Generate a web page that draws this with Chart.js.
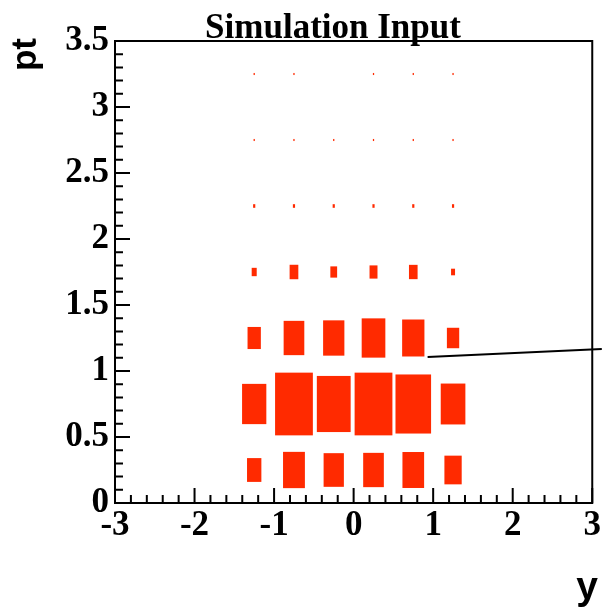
<!DOCTYPE html>
<html>
<head>
<meta charset="utf-8">
<title>Simulation Input</title>
<script src="https://cdn.jsdelivr.net/npm/chart.js@4.4.1/dist/chart.umd.min.js"></script>
<style>
  html, body { margin: 0; padding: 0; background: #fff; }
  #c { display: block; }
</style>
</head>
<body>
<canvas id="c" width="603" height="610"></canvas>
<script>
// 2D histogram drawn ROOT "BOX" style: one red box per (y, pt) cell,
// box area proportional to the cell content.

const yBinCenters  = [-1.25, -0.75, -0.25, 0.25, 0.75, 1.25];
const ptBinCenters = [0.25, 0.75, 1.25, 1.75, 2.25, 2.75, 3.25];
const binWidthY  = 0.5;
const binWidthPt = 0.5;

// cell contents, one array per pt row (columns follow yBinCenters)
const contentPt025 = [130, 302, 260, 270, 297, 189];
const contentPt075 = [372, 903, 723, 903, 801, 384];
const contentPt125 = [112, 270, 286, 354, 314, 96];
const contentPt175 = [16, 48, 29, 40, 47, 10];
const contentPt225 = [3, 3, 3, 3, 3, 3];
const contentPt275 = [1, 1, 1, 1, 1, 1];
const contentPt325 = [1, 1, 0, 1, 1, 1];
const contentRows = [contentPt025, contentPt075, contentPt125, contentPt175,
                     contentPt225, contentPt275, contentPt325];
const contentFullCell = 1000;   // content whose box fills a whole cell

// stray line on the pad
const lineY  = [0.93, 3.12];
const linePt = [1.106, 1.167];

const xTicks = [-3, -2, -1, 0, 1, 2, 3];
const xTickLabels = ['-3', '-2', '-1', '0', '1', '2', '3'];
const yTicks = [0, 0.5, 1, 1.5, 2, 2.5, 3, 3.5];
const yTickLabels = ['0', '0.5', '1', '1.5', '2', '2.5', '3', '3.5'];
const xMinorStep = 0.2;
const yMinorStep = 0.1;

const BOX_RED = '#ff2a00';
const SERIF = '"Liberation Serif", "DejaVu Serif", serif';
const SANS  = '"Liberation Sans", Arial, sans-serif';

const boxPlugin = {
  id: 'boxes',
  beforeDatasetsDraw(chart) {
    const { ctx, scales: { x, y } } = chart;
    ctx.save();
    ctx.fillStyle = BOX_RED;
    contentRows.forEach((row, j) => {
      const pt = ptBinCenters[j];
      row.forEach((z, i) => {
        if (z <= 0) return;
        const f = Math.sqrt(z / contentFullCell);
        const hw = 0.5 * binWidthY * f, hh = 0.5 * binWidthPt * f;
        const x0 = x.getPixelForValue(yBinCenters[i] - hw);
        const x1 = x.getPixelForValue(yBinCenters[i] + hw);
        const y0 = y.getPixelForValue(pt + hh);
        const y1 = y.getPixelForValue(pt - hh);
        ctx.fillRect(x0, y0, x1 - x0, y1 - y0);
      });
    });
    ctx.restore();
  }
};

// frame, inward ticks, titles
const framePlugin = {
  id: 'frame',
  afterDraw(chart) {
    const { ctx, chartArea: a, scales: { x, y } } = chart;
    ctx.save();
    ctx.strokeStyle = '#000';
    ctx.lineWidth = 2;
    ctx.strokeRect(a.left, a.top, a.right - a.left, a.bottom - a.top);

    ctx.beginPath();
    const nx = Math.round((x.max - x.min) / xMinorStep);
    for (let k = 0; k <= nx; k++) {
      const px = x.getPixelForValue(x.min + k * xMinorStep);
      const len = k % 5 === 0 ? 15 : 8;
      ctx.moveTo(px, a.bottom);
      ctx.lineTo(px, a.bottom - len);
    }
    const ny = Math.round((y.max - y.min) / yMinorStep);
    for (let k = 0; k <= ny; k++) {
      const py = y.getPixelForValue(y.min + k * yMinorStep);
      const len = k % 5 === 0 ? 15 : 8;
      ctx.moveTo(a.left, py);
      ctx.lineTo(a.left + len, py);
    }
    ctx.stroke();

    ctx.fillStyle = '#000';
    ctx.font = 'bold 35px ' + SERIF;
    ctx.textAlign = 'center';
    ctx.textBaseline = 'alphabetic';
    ctx.fillText('Simulation Input', 333, 38);

    ctx.font = 'bold 39px ' + SANS;
    ctx.textAlign = 'right';
    ctx.fillText('y', 598, 599);

    ctx.translate(36, 38);
    ctx.rotate(-Math.PI / 2);
    ctx.font = 'bold 35px ' + SANS;
    ctx.textAlign = 'right';
    ctx.fillText('pt', 0, 0);
    ctx.restore();
  }
};

new Chart(document.getElementById('c'), {
  type: 'scatter',
  data: {
    datasets: [{
      data: lineY.map((v, i) => ({ x: v, y: linePt[i] })),
      showLine: true,
      borderColor: '#000',
      borderWidth: 2,
      pointRadius: 0,
      clip: false
    }]
  },
  options: {
    responsive: false,
    animation: false,
    layout: { padding: { top: 41, right: 7, left: 0, bottom: 0 } },
    plugins: { legend: { display: false }, tooltip: { enabled: false }, title: { display: false } },
    scales: {
      x: {
        type: 'linear', min: -3, max: 3,
        grid: { display: false, drawTicks: false },
        border: { display: false },
        afterBuildTicks(s) { s.ticks = xTicks.map(v => ({ value: v })); },
        afterFit(s) { s.height = 107; },
        ticks: {
          padding: 2, color: '#000', maxRotation: 0, autoSkip: false,
          font: { family: SERIF, size: 35, weight: 'bold' },
          callback: (v) => xTickLabels[xTicks.indexOf(v)]
        }
      },
      y: {
        type: 'linear', min: 0, max: 3.5,
        grid: { display: false, drawTicks: false },
        border: { display: false },
        afterBuildTicks(s) { s.ticks = yTicks.map(v => ({ value: v })); },
        afterFit(s) { s.width = 115; },
        ticks: {
          padding: 6, color: '#000', autoSkip: false,
          font: { family: SERIF, size: 35, weight: 'bold' },
          callback: (v) => yTickLabels[yTicks.indexOf(v)]
        }
      }
    }
  },
  plugins: [boxPlugin, framePlugin]
});
</script>
</body>
</html>
